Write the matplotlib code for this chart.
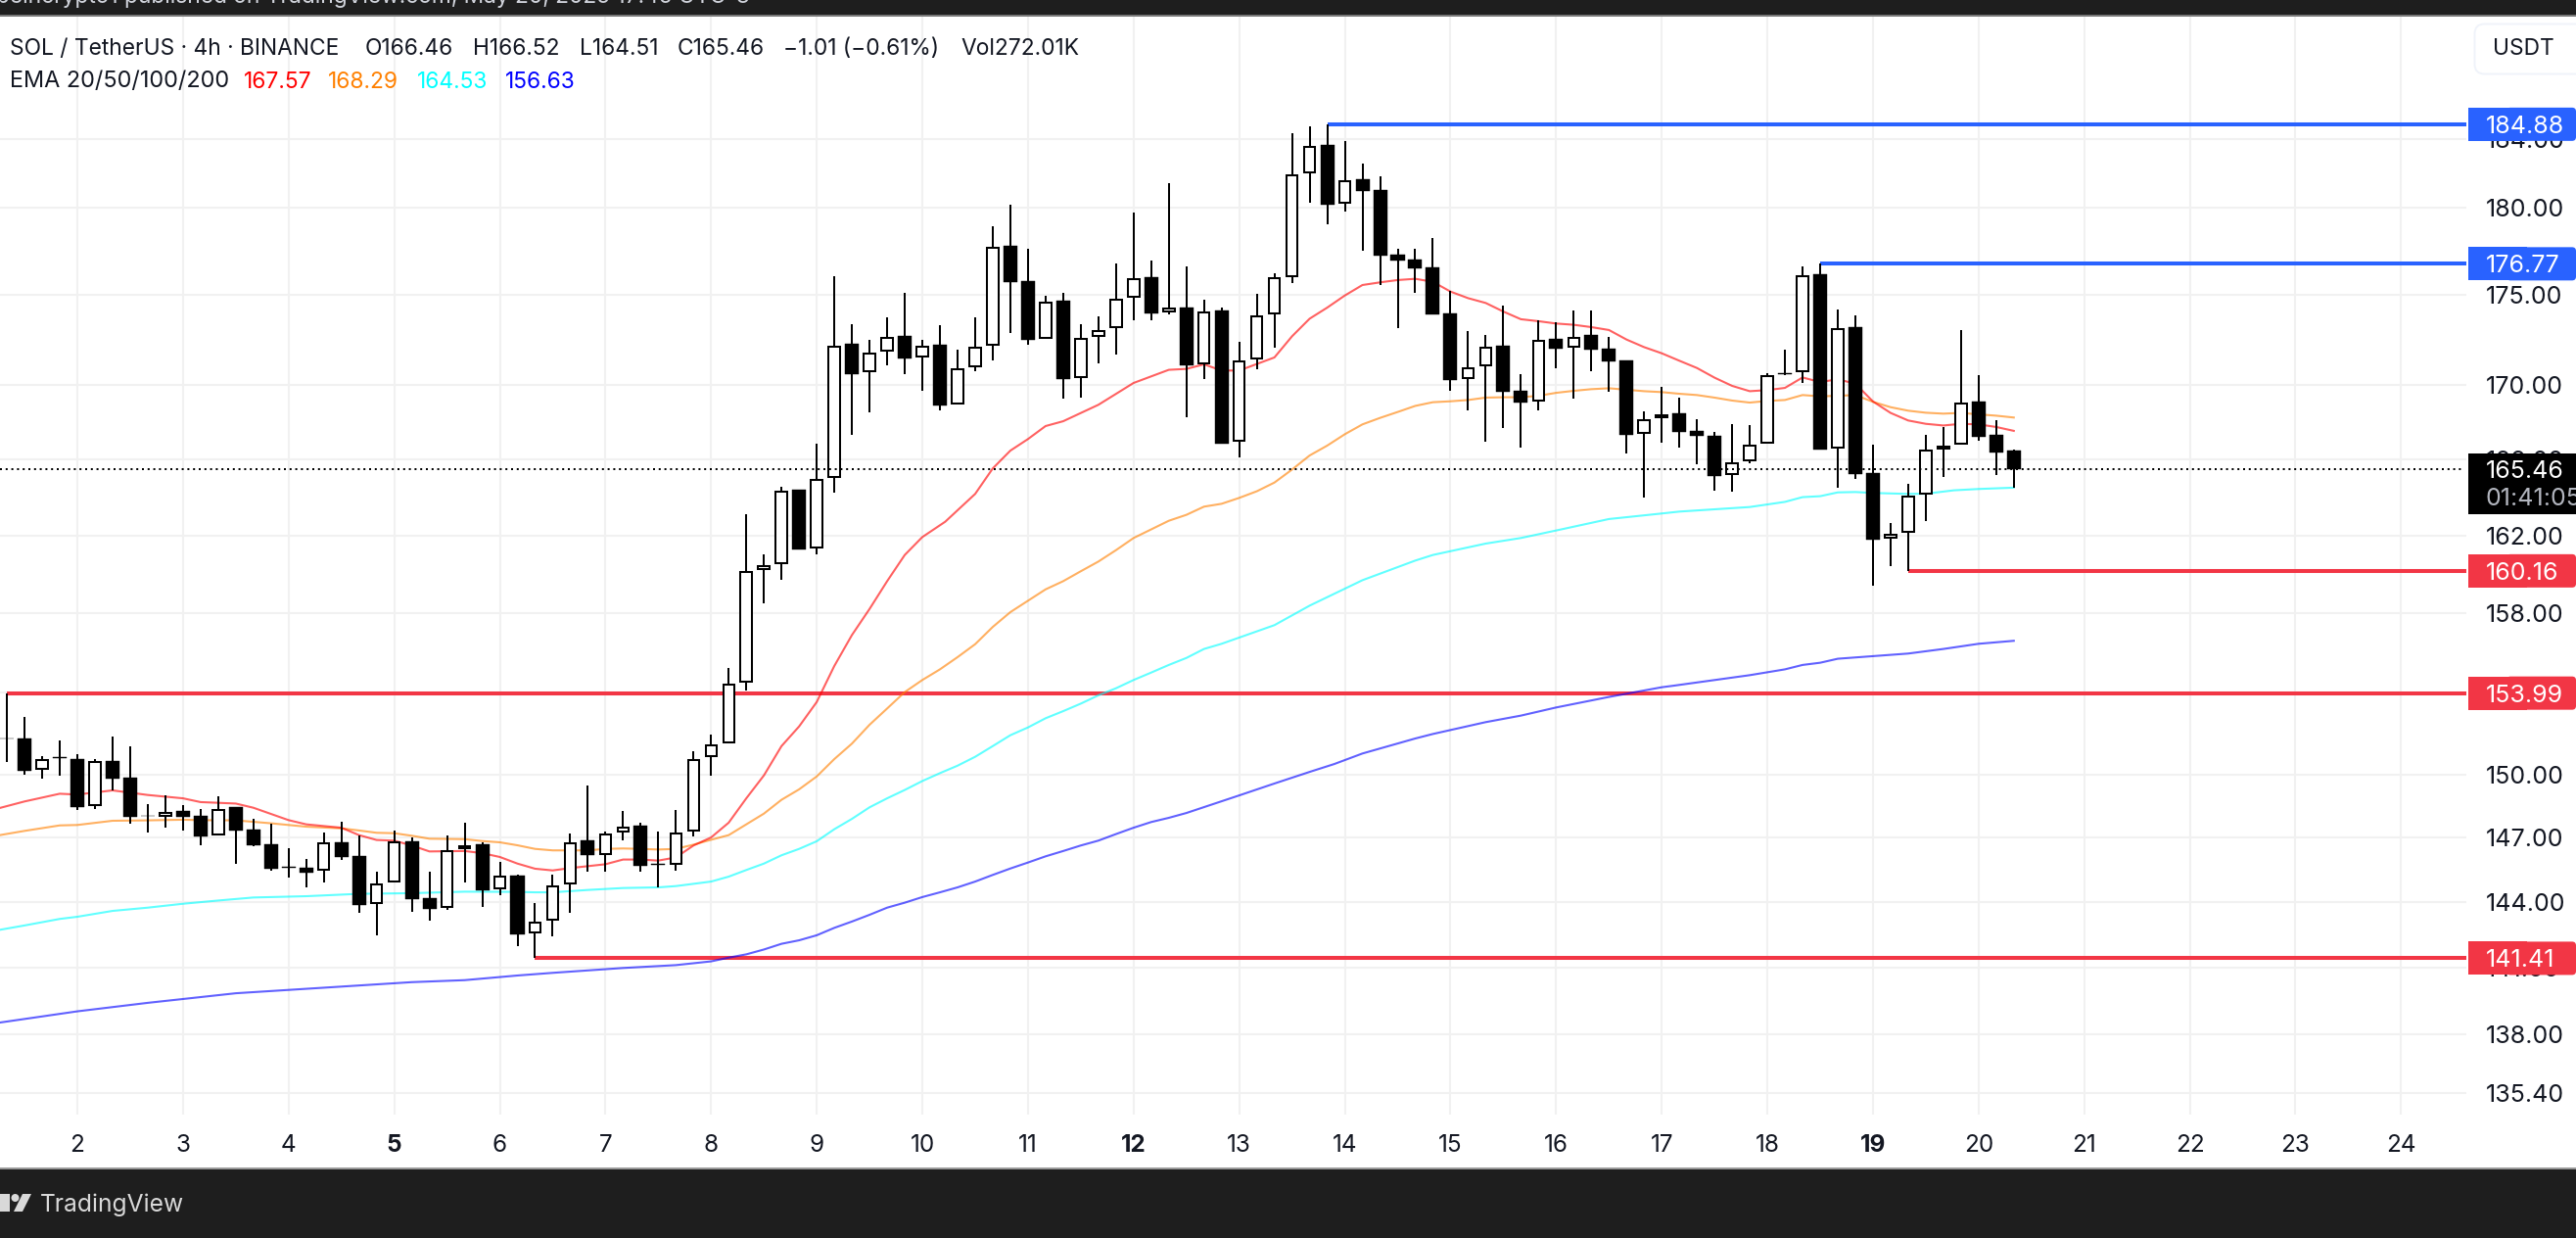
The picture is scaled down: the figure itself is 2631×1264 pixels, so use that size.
import matplotlib
matplotlib.use('Agg')
import matplotlib.pyplot as plt
from matplotlib.patches import Rectangle, FancyBboxPatch, Polygon, Circle
from matplotlib.ticker import NullLocator, FixedLocator, FixedFormatter

plt.rcParams['font.family'] = ['Inter', 'DejaVu Sans']

opens = [151.78,151.74,150.29,150.84,150.74,148.53,150.67,149.85,148.05,148.02,148.27,148.03,147.15,148.45,147.38,146.69,145.61,145.58,145.48,146.78,
146.13,143.93,144.94,146.83,144.17,143.75,146.50,146.67,144.62,145.22,142.59,143.16,144.84,146.86,146.23,147.29,147.55,145.75,145.77,147.32,
150.89,151.57,154.56,160.24,160.56,164.39,161.37,165.08,172.27,170.76,171.91,172.70,171.58,172.21,169.01,171.04,172.23,177.78,175.77,172.61,
174.67,170.43,172.72,173.19,174.91,175.99,174.07,174.28,171.20,174.12,167.00,171.47,173.97,176.05,182.04,183.65,180.25,181.62,180.99,177.29,
176.99,176.55,173.96,170.40,171.08,172.16,169.68,169.15,172.54,172.12,172.76,172.00,171.35,167.42,168.25,168.46,167.51,167.24,165.22,165.93,
166.89,170.68,170.77,176.18,166.63,173.19,165.26,161.86,162.18,164.18,166.56,166.86,169.10,167.30,166.46]
highs = [153.99,152.81,150.90,151.66,151.00,150.74,151.86,151.38,148.59,149.01,148.55,148.36,148.97,148.45,147.89,147.66,146.50,146.00,147.24,147.75,
147.09,145.40,147.34,147.03,145.40,147.10,147.71,146.78,145.86,145.25,143.94,145.25,147.20,149.48,147.29,148.27,147.71,147.29,148.31,151.14,
151.95,155.24,163.10,161.01,164.56,164.39,166.82,176.07,173.37,172.48,173.76,175.13,172.48,173.32,171.96,173.76,178.92,180.16,177.63,174.96,
175.13,173.37,173.81,176.79,179.71,176.96,181.41,176.62,174.74,174.30,172.39,175.07,176.23,184.35,184.75,184.88,183.88,182.56,181.81,177.63,
177.63,178.24,175.24,172.99,172.77,174.41,170.61,173.59,173.48,174.14,174.14,172.67,171.37,168.58,169.92,169.33,168.16,167.46,167.90,167.84,
170.65,171.96,176.62,176.77,174.19,173.86,166.79,162.64,164.70,167.31,167.75,173.05,170.56,168.11,166.52]
lows = [150.60,150.02,149.83,149.96,148.33,148.38,149.23,147.68,147.24,147.47,147.34,146.66,147.09,145.78,146.61,145.46,145.13,144.67,144.91,145.95,
143.49,142.47,144.88,143.55,143.13,143.64,144.91,143.76,144.31,141.96,141.41,142.41,143.49,145.40,145.40,146.87,145.40,144.67,145.46,147.06,
149.96,151.52,154.14,158.51,159.72,161.28,161.03,164.25,167.31,168.55,171.11,170.63,169.72,168.65,168.96,170.79,171.38,172.90,172.25,172.56,
169.29,169.35,171.22,171.71,173.61,173.61,173.92,168.28,170.36,166.86,166.13,170.90,172.07,175.66,180.29,179.05,179.76,177.53,175.55,173.17,
175.15,173.94,169.72,168.65,166.96,167.70,166.65,168.65,170.95,169.29,170.79,169.67,166.33,164.00,166.91,166.65,165.76,164.36,164.31,165.81,
166.82,170.54,170.15,166.51,164.51,164.98,159.41,160.42,160.16,162.76,165.08,166.79,167.00,165.19,164.51]
closes = [151.74,150.21,150.73,150.81,148.47,150.63,149.83,148.00,148.02,148.19,147.99,147.07,148.33,147.35,146.64,145.54,145.58,145.37,146.75,146.09,
143.87,144.82,146.76,144.14,143.67,146.38,146.61,144.55,145.19,142.52,143.06,144.73,146.75,146.20,147.17,147.49,145.69,145.72,147.21,150.73,
151.44,154.43,160.12,160.42,164.31,161.28,164.91,172.14,170.63,171.76,172.63,171.49,172.14,168.92,170.90,172.09,177.70,175.75,172.52,174.60,
170.36,172.57,173.01,174.76,175.92,173.99,174.27,171.11,174.05,166.86,171.31,173.83,175.94,181.89,183.54,180.18,181.55,180.97,177.25,176.98,
176.53,173.94,170.31,170.95,172.09,169.67,169.08,172.47,172.03,172.61,171.98,171.33,167.33,168.11,168.39,167.49,167.24,165.13,165.81,166.75,
170.52,170.61,176.07,166.54,173.10,165.24,161.79,162.03,164.05,166.49,166.70,169.01,167.23,166.39,165.46]

ema20_idx = [-0.4,1,3,4,6,8,10,11,13,14,16,17,19,20,21,22,23,24,26,27,28,29,30,31,32,33,34,35,36,37,38,39,40,41,42,43,44,45,46,47,48,49,50,51,52,53.3,55,56,57,58,59,60,62,64,66,67,68,69,70,71,
72,73,74,75,76,77,78,79,80,81,82,83,84,85,86,87,88,89,90,91,92,93,94,95,96,97,98,99,100,101,102,103,104,105,106,107,108,109,110,111,112,113,114]
ema20 = [148.41,148.72,149.09,149.05,149.25,149.03,148.87,148.69,148.62,148.42,147.83,147.63,147.47,147.12,146.89,146.86,146.63,146.35,146.37,146.27,146.09,145.78,145.54,145.46,145.57,145.66,145.75,145.97,145.97,145.92,146.07,146.63,147.01,147.71,148.87,149.97,
151.39,152.35,153.55,155.34,156.89,158.21,159.63,160.98,161.91,162.71,164.17,165.52,166.47,167.09,167.79,168.05,168.94,170.13,170.85,170.90,171.15,170.81,170.81,171.17,171.53,172.70,173.68,174.30,174.98,175.57,175.72,175.85,175.92,175.75,175.20,174.83,
174.56,174.08,173.65,173.54,173.41,173.34,173.21,173.05,172.52,172.10,171.76,171.35,170.95,170.42,169.97,169.68,169.74,169.86,170.43,170.18,170.33,170.09,169.12,168.50,168.09,167.91,167.82,167.91,167.88,167.74,167.53]

ema50_idx = [-0.4,1,3,4,6,8,10,11,13,15,17,19,20,21,22,23,24,26,27,28,29,30,31,32,33,34,35,36,37,38,39,40,41,42,43,44,45,46,47,48,49,50,51,52,53,54,55,56,57,58,59,60,61,62,63,64,66,67,68,69,70,71,
72,73,74,75,76,77,78,79,80,81,82,83,84,85,86,87,88,89,90,91,92,93,94,95,96,97,98,99,100,101,102,103,104,105,106,107,108,109,110,111,112,113,114]
ema50 = [147.12,147.32,147.58,147.60,147.80,147.82,147.85,147.83,147.82,147.68,147.52,147.44,147.34,147.23,147.21,147.09,146.95,146.93,146.84,146.78,146.64,146.47,146.40,146.40,146.40,146.47,146.49,146.47,146.44,146.47,146.67,146.90,
147.12,147.63,148.14,148.80,149.30,149.92,150.76,151.51,152.43,153.23,154.04,154.64,155.17,155.78,156.43,157.30,158.05,158.63,159.21,159.63,160.14,160.64,161.23,161.86,162.76,163.07,163.50,163.65,163.96,164.31,164.77,165.46,
166.21,166.74,167.35,167.88,168.23,168.55,168.88,169.08,169.13,169.20,169.33,169.35,169.35,169.43,169.59,169.70,169.79,169.84,169.76,169.68,169.63,169.54,169.47,169.33,169.17,169.06,169.15,169.20,169.47,169.40,169.43,169.47,
169.10,168.81,168.62,168.51,168.46,168.50,168.42,168.35,168.25]

ema100_idx = [-0.4,1,3,4,6,8,10,12,14,17,20,23,26,29,30,31,33,35,37,38,40,41,42,43,44,45,46,47,48,49,50,51,52,53,54,55,56,57,58,59,60,61,62,63,64,65,66,67,68,69,72,74,77,80,81,84,86,88.4,91,94,95,99,101,102,103,104,105,106,108,109,110.6,112,114]
ema100 = [142.71,142.91,143.21,143.31,143.58,143.73,143.91,144.06,144.20,144.26,144.37,144.40,144.47,144.46,144.44,144.44,144.55,144.64,144.67,144.73,144.94,145.17,145.48,145.78,146.17,146.47,146.83,147.40,147.89,148.44,148.87,149.27,
149.70,150.08,150.44,150.87,151.39,151.92,152.30,152.75,153.10,153.47,153.88,154.23,154.64,155.01,155.39,155.74,156.19,156.45,157.39,158.38,159.68,160.69,160.98,161.57,161.86,162.33,162.85,163.14,163.24,163.48,163.75,164.00,
164.05,164.25,164.27,164.22,164.17,164.18,164.36,164.43,164.50]

ema200_idx = [-0.4,4,8,13,18,23,26,29,31,35,38,40,41,42,43,44,45,46,47,48,49,50,51,52,53,54,55,56,57,58,59,60,61,62,63,64,65,66,67,70,72,74,75.4,77,80,81,84,86,88,91,93,94,94.7,99,101,102,103,104,106,108,110,112,114]
ema200 = [138.52,139.02,139.4,139.83,140.08,140.33,140.42,140.63,140.75,140.97,141.1,141.27,141.44,141.59,141.81,142.07,142.23,142.46,142.8,143.09,143.4,143.73,143.96,144.22,144.44,144.67,144.94,145.25,145.55,145.83,146.12,146.37,146.63,146.86,147.17,147.47,147.74,147.94,148.17,149.01,149.58,150.14,150.52,151.03,151.76,151.98,152.56,152.88,153.28,153.8,154.12,154.28,154.36,154.88,155.17,155.39,155.5,155.7,155.83,155.96,156.19,156.45,156.6]

level_prices = [184.88, 176.77, 160.16, 153.99, 141.41]
level_starts = [75, 103, 108, 0, 30]
level_colors = ['#2962FF', '#2962FF', '#F23645', '#F23645', '#F23645']
last_price = 165.46

price_ticks = [184, 180, 175, 170, 166, 162, 158, 154, 150, 147, 144, 141, 138, 135.4]
day_labels = list(range(2, 25))
bold_days = [5, 12, 19]

W, H = 2631, 1264
DARK = '#1E1E1E'
INK = '#131722'
GRID = '#F1F1F1'
FS = 16.4
FS_AXIS = 18

fig = plt.figure(figsize=(W / 100, H / 100), dpi=100, facecolor='white')
ax_top, ax_bot, ax_right = 16, 1138, 2519
ax = fig.add_axes([0, 1 - ax_bot / H, ax_right / W, (ax_bot - ax_top) / H])
ax.set_yscale('log')
ax.set_facecolor('white')
for s in ax.spines.values():
    s.set_visible(False)

# 1 candle = 17.98 px, first candle centre at x = 7.08 px
x_left, x_right = -7.08 / 17.98, (ax_right - 7.08) / 17.98
idx = list(range(len(opens)))

for p, st, col in zip(level_prices, level_starts, level_colors):
    ax.hlines(p, st, x_right, color=col, lw=2.9, zorder=2)

for ix, vals, col in ((ema200_idx, ema200, '#0000FF'), (ema100_idx, ema100, '#00FFFF'),
                      (ema50_idx, ema50, '#FF8000'), (ema20_idx, ema20, '#FF0000')):
    ax.plot(ix, vals, color=col, alpha=0.62, lw=1.5, zorder=3, solid_joinstyle='round')

ax.vlines(idx, lows, highs, color='black', lw=1.44, zorder=4)
for i, o, c in zip(idx, opens, closes):
    if c >= o:
        ax.bar(i, c - o, bottom=o, width=0.64, facecolor='white', edgecolor='black', linewidth=1.45, zorder=5)
    else:
        ax.bar(i, o - c, bottom=c, width=0.78, facecolor='black', edgecolor='black', linewidth=0.3, zorder=5)

ax.hlines(last_price, x_left, (2515 - 7.08) / 17.98, color='black', lw=1.44,
          linestyles=[(0, (1, 1.9))], zorder=6)

ax.set_xlim(x_left, x_right)
ax.set_ylim(184 * 2.718281828 ** (-(ax_bot - 142) / 3177), 184 * 2.718281828 ** ((142 - ax_top) / 3177))

ax.set_axisbelow(True)
ax.yaxis.tick_right()
ax.yaxis.set_major_locator(FixedLocator(price_ticks))
ax.yaxis.set_major_formatter(FixedFormatter([f'{t:.2f}' for t in price_ticks]))
ax.yaxis.set_minor_locator(NullLocator())
day_pos = [4 + 6 * (d - 2) for d in day_labels]
ax.set_xticks(day_pos)
ax.set_xticklabels([str(d) for d in day_labels])
for lab, d in zip(ax.get_xticklabels(), day_labels):
    if d in bold_days:
        lab.set_fontweight('bold')
ax.tick_params(axis='y', length=0, pad=14.4, labelsize=FS_AXIS, labelcolor=INK)
ax.tick_params(axis='x', length=0, pad=14.5, labelsize=17.5, labelcolor=INK)
ax.grid(True, color=GRID, lw=1.5, zorder=0)

ov = fig.add_axes([0, 0, 1, 1], zorder=5)
ov.set_xlim(0, W)
ov.set_ylim(H, 0)
ov.axis('off')
ov.patch.set_alpha(0)


def ypx(p):
    return H - ax.transData.transform((0, p))[1]


# top and bottom bars
ov.add_patch(Rectangle((0, 0), W, 15, fc=DARK, ec='none'))
ov.add_patch(Rectangle((0, 15), W, 1.5, fc='#777777', ec='none'))
ov.add_patch(Rectangle((0, 1193), W, H - 1193, fc=DARK, ec='none'))
ov.add_patch(Rectangle((0, 1192), W, 1.5, fc='#999999', ec='none'))
top = ov.text(-4, 3.5, 'beincrypto1 published on TradingView.com, May 20, 2025 17:45 UTC-3',
              color='#D1D4DC', fontsize=FS, va='baseline', ha='left')
top.set_clip_path(Rectangle((0, 0), W, 15, transform=ov.transData))

LOGO = '#D9D9D9'
ov.add_patch(Rectangle((0, 1219), 10, 18, fc=LOGO, ec='none'))
ov.add_patch(Circle((15.5, 1223), 4, fc=LOGO, ec='none'))
ov.add_patch(Polygon([(23, 1219), (32, 1219), (23, 1237), (14, 1237)], fc=LOGO, ec='none'))
ov.text(41, 1230, 'TradingView', color=LOGO, fontsize=17.7, va='center', ha='left')

# legend header
hdr_y, ema_y = 56, 89.5
for x, s in ((10, 'SOL / TetherUS · 4h · BINANCE'), (373, 'O166.46'), (483, 'H166.52'), (592, 'L164.51'),
             (692, 'C165.46'), (800, '−1.01 (−0.61%)'), (981, 'Vol272.01K')):
    ov.text(x, hdr_y, s, color=INK, fontsize=FS, va='baseline', ha='left')
ov.text(10, ema_y, 'EMA 20/50/100/200', color=INK, fontsize=16.9, va='baseline', ha='left')
for x, s, c in ((249, '167.57', '#FF0000'), (335, '168.29', '#FF8000'), (426, '164.53', '#00FFFF'), (516, '156.63', '#0000FF')):
    ov.text(x, ema_y, s, color=c, fontsize=FS, va='baseline', ha='left')

# currency button
ov.add_patch(FancyBboxPatch((2527.5, 24.5), 130, 51, boxstyle='round,pad=0,rounding_size=10',
                            fc='white', ec='#F0F3FA', lw=1.4))
ov.text(2577, 50, 'USDT', color=INK, fontsize=FS, va='center', ha='center')

# price tags
for p, col in zip(level_prices, level_colors):
    y = ypx(p)
    ov.add_patch(Rectangle((2521, y - 17), 60, 34, fc=col, ec='none'))
    ov.add_patch(FancyBboxPatch((2560, y - 17), 71, 34, boxstyle='round,pad=0,rounding_size=4', fc=col, ec='none'))
    ov.text(2539, y, f'{p:.2f}', color='white', fontsize=FS_AXIS, va='center_baseline', ha='left')

y = ypx(last_price)
ov.add_patch(Rectangle((2521, 463), W - 2521, 62, fc='black', ec='none'))
ov.text(2539, y, f'{last_price:.2f}', color='white', fontsize=FS_AXIS, va='center_baseline', ha='left')
ov.text(2538, 507, '01:41:05', color='#B2B5BE', fontsize=FS_AXIS, va='center_baseline', ha='left', clip_on=True)

fig.savefig('out.png', dpi=100)
